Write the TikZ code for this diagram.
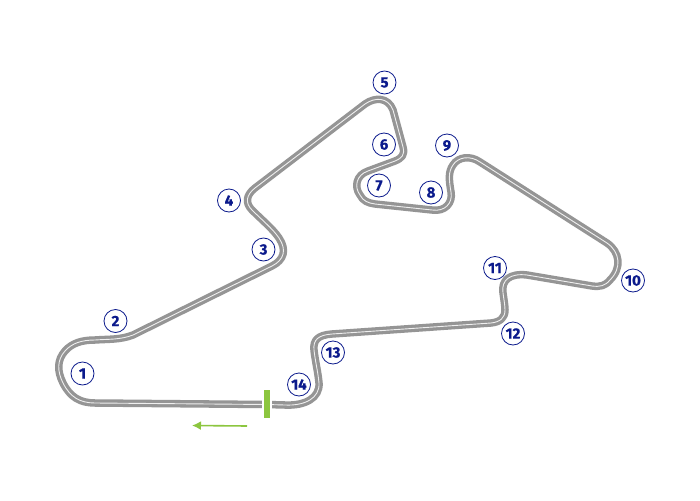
\documentclass[tikz,border=0pt]{standalone}
\usepackage{fontspec}
\setmainfont{Fira Sans}[BoldFeatures={FakeBold=0.6}]
\usetikzlibrary{arrows.meta}
\definecolor{trackgray}{HTML}{959595}
\definecolor{navy}{HTML}{0B1A8C}
\definecolor{limeg}{HTML}{8CC63F}
\newcommand{\trackshape}{(267,404.5) -- (95,403) .. controls (80,403) and (70,397) .. (63,383)
 .. controls (57,371) and (57,360) .. (65,351) .. controls (72,343) and (82,340) .. (95,340)
 .. controls (108,339) and (120,340) .. (133,335) -- (272,266)
 .. controls (284,260) and (287,250) .. (279,238) .. controls (273,229) and (262,220) .. (252,210)
 .. controls (245,203) and (246,195) .. (255,188) -- (365,104)
 .. controls (375,97) and (388,97) .. (393,110) -- (403,147)
 .. controls (405,155) and (402,158) .. (395,161) -- (368,171)
 .. controls (356,175) and (354,187) .. (360,195) .. controls (363,201) and (368,203) .. (375,204)
 -- (432,210) .. controls (445,212) and (453,203) .. (451,192)
 .. controls (449,180) and (448,172) .. (453,165) .. controls (458,157) and (470,155) .. (480,162)
 -- (607,243) .. controls (620,252) and (622,268) .. (610,280)
 .. controls (605,286) and (600,287) .. (592,286) -- (527,275)
 .. controls (510,273) and (501,280) .. (503,293) .. controls (504,300) and (505,306) .. (505,310)
 .. controls (505,318) and (500,322) .. (491,323) -- (332,334)
 .. controls (318,335) and (313,340) .. (314,350) .. controls (315,360) and (318,372) .. (319,383)
 .. controls (320,398) and (305,406) .. (285,405) -- cycle}
\tikzset{
 x=1pt,y=-1pt,
 turn/.style={circle,draw=navy,line width=0.8pt,fill=white,minimum size=23pt,inner sep=0pt,
  text=navy,font=\fontsize{15}{15}\selectfont\bfseries},
 trackbase/.style={draw=trackgray,line width=7.5pt,line join=round},
 trackline/.style={draw=white!85!trackgray,line width=0.9pt,line join=round},
}
\begin{document}
\begin{tikzpicture}
\useasboundingbox[fill=white] (0,0) rectangle (700,500);
\draw[trackbase] \trackshape;
\draw[trackline] \trackshape;
\fill[white] (262,398) rectangle (272,412);
\fill[limeg] (264,390) rectangle (270,418);
\coordinate (arrowstart) at (247,426);
\coordinate (arrowend) at (192,425.5);
\draw[limeg,line width=1.6pt,-{Latex[length=9pt,width=9pt]}] (arrowstart) -- (arrowend);
\node[turn] (t1) at (82.5,373.5) {1};
\node[turn] (t2) at (115.5,321) {2};
\node[turn] (t3) at (263.5,249.5) {3};
\node[turn] (t4) at (229,200.5) {4};
\node[turn] (t5) at (384.5,82.5) {5};
\node[turn] (t6) at (384,144.5) {6};
\node[turn] (t7) at (379,185.5) {7};
\node[turn] (t8) at (431,192.5) {8};
\node[turn] (t9) at (447,145.5) {9};
\node[turn] (t10) at (633,280.5) {10};
\node[turn] (t11) at (495,268) {11};
\node[turn] (t12) at (513,333.5) {12};
\node[turn] (t13) at (333,352.5) {13};
\node[turn] (t14) at (299,384.5) {14};
\end{tikzpicture}
\end{document}
